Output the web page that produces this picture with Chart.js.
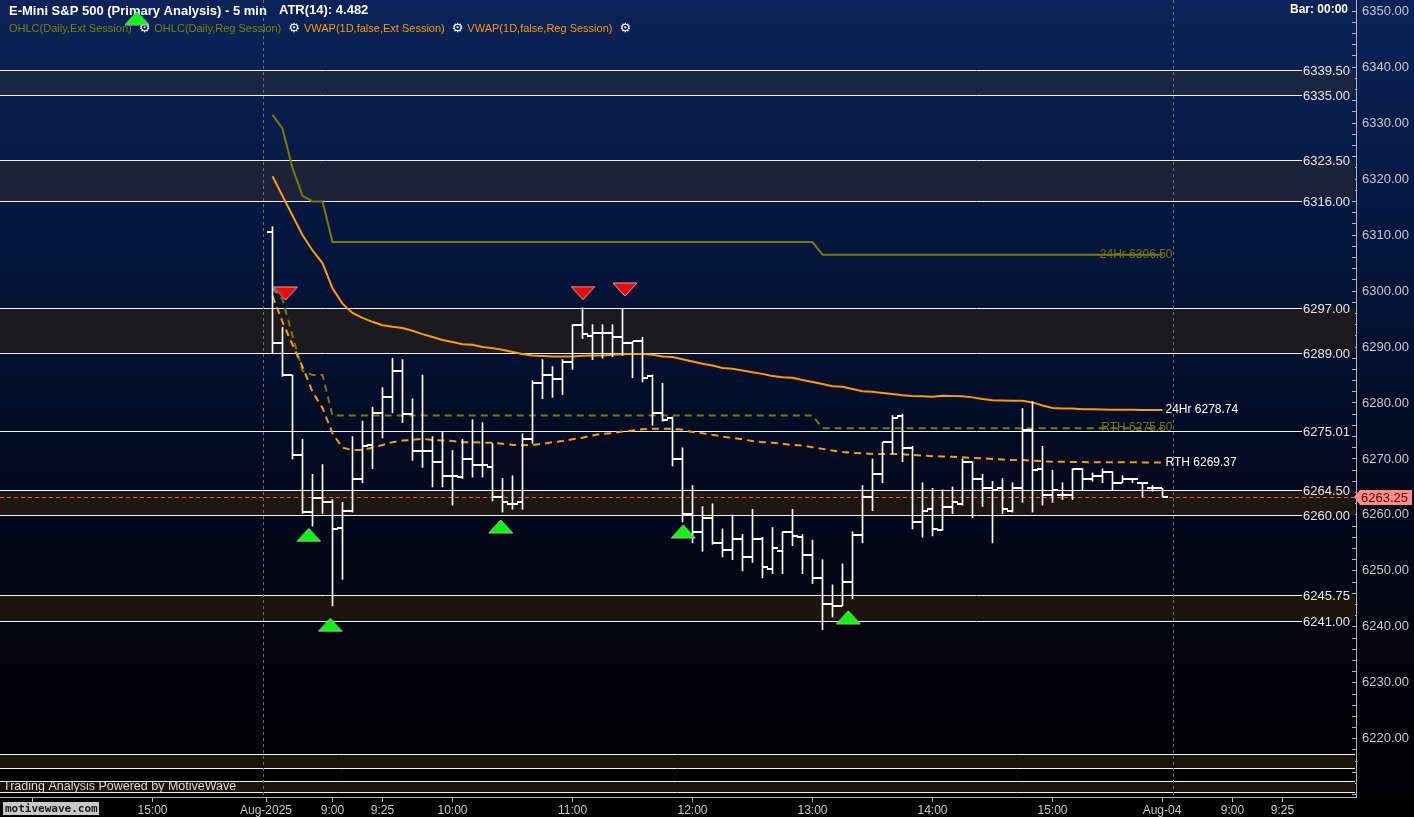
<!DOCTYPE html>
<html><head><meta charset="utf-8">
<script src="https://cdn.jsdelivr.net/npm/chart.js@4.4.1/dist/chart.umd.min.js"></script>
<style>html,body{margin:0;padding:0;background:#000;overflow:hidden}#wrap{width:1414px;height:817px;position:relative}</style>
</head><body><div id="wrap"><canvas id="c"></canvas></div>
<script>
// ---------- DATA ----------
const opens = [6310.5,6290.75,6285.0,6270.75,6260.5,6263.0,6262.25,6257.75,6260.75,6266.5,
6272.5,6278.25,6281.0,6285.75,6278.0,6271.5,6271.5,6269.5,6267.0,6266.75,
6270.0,6269.0,6268.5,6263.25,6262.0,6262.25,6273.5,6283.5,6285.0,6284.25,
6287.25,6294.0,6292.0,6292.5,6292.5,6291.75,6290.75,6291.0,6284.75,6278.25,
6277.25,6270.0,6260.25,6257.0,6259.5,6255.0,6253.75,6255.75,6252.5,6255.75,
6250.25,6253.5,6257.0,6256.0,6252.75,6248.75,6244.0,6243.75,6248.0,6256.5,
6263.25,6267.25,6273.0,6277.75,6272.0,6258.75,6261.0,6257.25,6261.5,6262.0,
6269.5,6266.5,6264.75,6264.75,6260.75,6264.75,6275.25,6268.25,6263.5,6263.5,
6263.5,6268.25,6266.5,6267.0,6267.75,6265.75,6266.5,6265.75,6264.75,6264.75];
const highs = [6311.5,6293.5,6285.0,6273.5,6267.25,6269.0,6262.75,6262.25,6274.0,6276.75,
6279.25,6282.75,6288.0,6287.75,6280.75,6285.0,6274.0,6274.75,6271.5,6273.5,
6277.0,6276.5,6272.75,6266.5,6267.0,6274.5,6284.0,6287.75,6286.5,6287.75,
6294.0,6297.0,6294.0,6294.0,6294.0,6296.75,6291.0,6291.75,6285.0,6283.5,
6277.5,6272.0,6265.25,6261.5,6262.0,6257.5,6260.0,6256.5,6261.0,6256.0,
6257.75,6257.0,6261.0,6256.5,6255.5,6252.0,6247.5,6251.25,6257.0,6265.25,
6270.0,6273.0,6277.75,6278.0,6272.25,6265.75,6264.75,6264.5,6265.0,6270.0,
6269.5,6267.25,6266.0,6266.5,6265.75,6279.0,6280.25,6272.25,6268.0,6265.75,
6268.25,6268.25,6267.5,6268.25,6267.75,6267.0,6266.5,6265.75,6265.25,6264.75];
const lows = [6289.0,6284.75,6270.0,6260.25,6258.0,6260.25,6243.75,6248.5,6260.5,6265.75,
6268.25,6273.75,6278.25,6276.5,6269.75,6268.5,6265.0,6265.0,6261.75,6266.5,
6266.75,6266.75,6262.5,6260.5,6261.0,6261.0,6272.75,6280.75,6281.0,6281.5,
6286.0,6291.5,6287.75,6288.0,6288.25,6288.5,6284.5,6283.75,6276.0,6276.75,
6268.75,6258.75,6255.0,6253.5,6254.75,6252.5,6252.0,6250.0,6251.5,6248.75,
6249.5,6249.5,6254.5,6249.5,6247.75,6239.5,6241.75,6243.75,6245.0,6255.0,
6260.75,6265.75,6271.0,6269.5,6257.5,6256.0,6256.25,6257.25,6260.25,6261.75,
6259.5,6261.5,6255.0,6260.25,6260.5,6262.25,6260.5,6261.75,6262.25,6262.75,
6262.75,6264.5,6266.0,6265.75,6264.5,6265.75,6265.75,6263.25,6264.25,6263.25];
const closes = [6290.75,6285.0,6270.75,6260.5,6263.0,6262.25,6257.5,6260.75,6266.5,6272.25,
6278.25,6281.0,6285.75,6278.0,6271.5,6271.5,6269.5,6267.0,6267.0,6270.0,
6269.0,6269.0,6263.25,6262.25,6262.0,6273.5,6283.5,6285.0,6284.25,6287.25,
6294.0,6292.25,6292.5,6292.5,6291.75,6290.75,6291.0,6284.5,6278.25,6277.0,
6270.0,6260.25,6257.0,6259.5,6255.0,6253.75,6255.75,6252.5,6255.75,6250.75,
6254.0,6257.0,6256.25,6252.75,6248.75,6244.0,6243.75,6248.0,6256.5,6263.25,
6267.25,6273.0,6277.25,6272.0,6258.75,6260.75,6257.5,6261.5,6262.25,6269.5,
6266.5,6264.75,6264.5,6261.0,6264.75,6275.25,6268.0,6263.5,6264.5,6263.5,
6268.25,6266.5,6267.0,6267.75,6265.75,6266.5,6266.5,6265.75,6264.75,6263.25];

// OHLC(Daily) step lines: bar index where the line bends, and its value there
const ext24X = [0,1,2,3,4,5,6,54,55,89];
const ext24Y = [6331.5,6329.0,6322.0,6317.0,6316.0,6316.0,6308.75,6308.75,6306.5,6306.5];
const rthX = [0,1,2,3,4,5,6,54,55,89];
const rthY = [6300.5,6298.5,6292.0,6285.75,6285.0,6285.0,6277.75,6277.75,6275.5,6275.5];

const vwapExt = [6320.5,6317.0,6313.5,6310.0,6307.25,6305.0,6300.5,6297.75,6296.1,6295.2,
6294.5,6293.9,6293.6,6293.4,6292.9,6292.3,6291.8,6291.25,6290.9,6290.5,
6290.4,6290.0,6289.8,6289.5,6289.1,6288.75,6288.5,6288.4,6288.3,6288.3,
6288.3,6288.45,6288.5,6288.5,6288.6,6288.7,6288.75,6288.75,6288.6,6288.3,
6288.2,6287.8,6287.4,6287.0,6286.7,6286.25,6286.1,6285.8,6285.5,6285.2,
6284.8,6284.6,6284.5,6284.1,6283.75,6283.4,6283.0,6282.9,6282.5,6282.1,
6282.0,6281.8,6281.6,6281.4,6281.25,6281.2,6281.1,6281.3,6281.25,6281.2,
6281.0,6280.7,6280.5,6280.45,6280.4,6280.4,6280.1,6279.55,6279.1,6279.0,
6279.0,6278.9,6278.9,6278.85,6278.8,6278.8,6278.8,6278.75,6278.75,6278.74];
const vwapReg = [6299.1,6294.5,6290.4,6286.5,6282.0,6279.1,6274.6,6272.0,6271.6,6271.6,
6272.0,6272.5,6273.0,6273.3,6273.4,6273.6,6273.4,6273.3,6273.2,6273.0,
6273.0,6272.9,6272.9,6272.7,6272.5,6272.45,6272.5,6272.7,6273.0,6273.2,
6273.5,6273.8,6274.2,6274.5,6274.6,6274.9,6275.1,6275.3,6275.4,6275.4,
6275.4,6275.2,6274.8,6274.6,6274.3,6274.0,6273.75,6273.5,6273.2,6273.0,
6272.9,6272.7,6272.5,6272.4,6272.1,6271.8,6271.5,6271.25,6271.1,6271.0,
6270.9,6270.9,6270.9,6270.85,6270.7,6270.6,6270.5,6270.45,6270.4,6270.3,
6270.2,6270.1,6270.0,6269.9,6269.8,6269.8,6269.7,6269.6,6269.5,6269.5,
6269.45,6269.45,6269.4,6269.4,6269.4,6269.4,6269.4,6269.38,6269.38,6269.37];

const sellX = [1.3, 31.05, 35.25];
const sellY = [6299.55, 6299.64, 6300.27];
const buyX = [-13.55, 3.62, 5.78, 22.82, 41.08, 57.58];
const buyY = [6348.75, 6256.43, 6240.36, 6257.95, 6257.05, 6241.7];

const levels = [6339.5, 6335, 6323.5, 6316, 6297, 6289, 6275.01, 6264.5, 6260, 6245.75, 6241, 6217.25, 6214.75, 6212.5, 6210.5];
const levelLabels = ['6339.50','6335.00','6323.50','6316.00','6297.00','6289.00','6275.01','6264.50','6260.00','6245.75','6241.00','','','',''];
const bandTop = [6339.5, 6323.5, 6297, 6264.5, 6245.75, 6217.25, 6212.5];
const bandBottom = [6335, 6316, 6289, 6260, 6241, 6214.75, 6210.5];
const lastPrice = 6263.25;
const sessionBreaks = [-1, 90];
const tickPos = [-24, -12, -0.65, 6, 11, 18, 30, 42, 54, 66, 78, 88.95, 96, 101];
const tickLabels = ['14:00','15:00','Aug-2025','9:00','9:25','10:00','11:00','12:00','13:00','14:00','15:00','Aug-04','9:00','9:25'];
const yTickValues = [];
for (let v = 6210; v <= 6350; v += 2) yTickValues.push(v);
const yLabelMin = 6220;

// ---------- STYLE ----------
const bandColors = ['#1a2541','#1b2239','#1b1a1f','#1c1712','#1c150d','#1a1309','#1a1309'];
const FONT = '"Liberation Sans", Arial, sans-serif';
const NARROW = '"Liberation Sans Narrow", "Liberation Sans", Arial, sans-serif';
Chart.defaults.font.family = FONT;

function tickCanvas(left) {
  const c = document.createElement('canvas'); c.width = 11; c.height = 2;
  const g = c.getContext('2d'); g.fillStyle = '#ffffff';
  if (left) g.fillRect(0, 0, 5, 2); else g.fillRect(6, 0, 5, 2);
  return c;
}
function triCanvas(fill, up) {
  const c = document.createElement('canvas'); c.width = 26; c.height = 15;
  const g = c.getContext('2d'); g.beginPath();
  if (up) { g.moveTo(13, 1); g.lineTo(25, 14); g.lineTo(1, 14); }
  else { g.moveTo(1, 1); g.lineTo(25, 1); g.lineTo(13, 14); }
  g.closePath(); g.fillStyle = fill; g.fill();
  g.strokeStyle = '#b8b8b8'; g.lineWidth = 1; g.stroke();
  return c;
}

const idx = opens.map((_, i) => i);
const pts = (xs, ys) => xs.map((x, i) => ({x, y: ys[i]}));

const decor = {
  id: 'decor',
  beforeDraw(chart) {
    const {ctx, width, height} = chart;
    const g = ctx.createLinearGradient(0, 0, 0, height);
    g.addColorStop(0, '#0b2358'); g.addColorStop(0.28, '#05173f');
    g.addColorStop(0.55, '#020b22'); g.addColorStop(0.8, '#01040c'); g.addColorStop(1, '#000000');
    ctx.save(); ctx.fillStyle = g; ctx.fillRect(0, 0, width, height); ctx.restore();
  },
  beforeDatasetsDraw(chart) {
    const {ctx, chartArea: a, scales: {x, y}} = chart;
    ctx.save();
    bandTop.forEach((t, i) => {
      const y1 = Math.round(y.getPixelForValue(t)), y2 = Math.round(y.getPixelForValue(bandBottom[i]));
      ctx.fillStyle = bandColors[i];
      ctx.fillRect(a.left, y1, a.right - a.left - 1, y2 - y1);
    });
    ctx.font = '13px ' + FONT; ctx.textAlign = 'right'; ctx.textBaseline = 'middle';
    levels.forEach((v, i) => {
      const py = Math.round(y.getPixelForValue(v)) + 0.5;
      const lab = levelLabels[i];
      const end = lab ? a.right - 54 : a.right - 1;
      ctx.strokeStyle = '#f2f2f2'; ctx.lineWidth = 1;
      ctx.beginPath(); ctx.moveTo(a.left, py); ctx.lineTo(end, py); ctx.stroke();
      if (lab) { ctx.fillStyle = '#e6e6e6'; ctx.fillText(lab, a.right - 6, py + 1); }
    });
    // session breaks
    ctx.strokeStyle = '#6e6e6e'; ctx.setLineDash([3, 3]);
    sessionBreaks.forEach(v => {
      const px = Math.round(x.getPixelForValue(v)) + 0.5;
      ctx.beginPath(); ctx.moveTo(px, a.top); ctx.lineTo(px, a.bottom); ctx.stroke();
    });
    // last price line
    const lp = Math.round(y.getPixelForValue(lastPrice)) + 0.5;
    ctx.strokeStyle = '#ff4a4a'; ctx.setLineDash([4, 3]);
    ctx.beginPath(); ctx.moveTo(a.left, lp); ctx.lineTo(a.right, lp); ctx.stroke();
    ctx.setLineDash([]);
    // title & legend
    ctx.textAlign = 'left'; ctx.textBaseline = 'middle';
    ctx.fillStyle = '#ffffff'; ctx.font = 'bold 13px ' + NARROW;
    ctx.fillText('E-Mini S&P 500 (Primary Analysis) - 5 min', 9, 11);
    ctx.fillText('ATR(14): 4.482', 279, 10);
    ctx.textAlign = 'right'; ctx.font = 'bold 12px ' + NARROW;
    ctx.fillText('Bar: 00:00', a.right - 8, 10);
    ctx.textAlign = 'left';
    const items = [['OHLC(Daily,Ext Session)', '#80800a'], ['OHLC(Daily,Reg Session)', '#80800a'],
                   ['VWAP(1D,false,Ext Session)', '#ff9900'], ['VWAP(1D,false,Reg Session)', '#ff9900']];
    let lx = 9;
    items.forEach(([t, c]) => {
      ctx.font = '11px ' + NARROW; ctx.fillStyle = c; ctx.fillText(t, lx, 29);
      lx += ctx.measureText(t).width + 7;
      ctx.font = '13px "DejaVu Sans"'; ctx.fillStyle = '#ffffff'; ctx.fillText('\u2699', lx, 29);
      lx += ctx.measureText('\u2699').width + 4;
    });
    ctx.font = '12.5px ' + NARROW; ctx.fillStyle = '#d8d8d8';
    ctx.fillText('Trading Analysis Powered by MotiveWave', 3, 787);
    ctx.restore();
  },
  afterDatasetsDraw(chart) {
    const {ctx, scales: {x, y}} = chart;
    ctx.save();
    ctx.font = '12px ' + FONT; ctx.textBaseline = 'middle';
    const xr = x.getPixelForValue(89);
    ctx.textAlign = 'right'; ctx.fillStyle = '#75750a';
    ctx.fillText('24Hr ' + ext24Y[ext24Y.length - 1].toFixed(2), xr + 10, y.getPixelForValue(ext24Y[ext24Y.length - 1]));
    ctx.fillText('RTH ' + rthY[rthY.length - 1].toFixed(2), xr + 10, y.getPixelForValue(rthY[rthY.length - 1]));
    ctx.textAlign = 'left'; ctx.fillStyle = '#ffffff';
    ctx.fillText('24Hr ' + vwapExt[vwapExt.length - 1].toFixed(2), xr + 3, y.getPixelForValue(vwapExt[vwapExt.length - 1]));
    ctx.fillText('RTH ' + vwapReg[vwapReg.length - 1].toFixed(2), xr + 3, y.getPixelForValue(vwapReg[vwapReg.length - 1]));
    ctx.restore();
  },
  afterDraw(chart) {
    const {ctx, chartArea: a, scales: {y}} = chart;
    ctx.save();
    const py = Math.round(y.getPixelForValue(lastPrice));
    ctx.fillStyle = '#ff8a8a';
    ctx.beginPath(); ctx.moveTo(a.right - 2, py); ctx.lineTo(a.right + 4, py - 7); ctx.lineTo(a.right + 56, py - 7);
    ctx.lineTo(a.right + 56, py + 8); ctx.lineTo(a.right + 4, py + 8); ctx.closePath(); ctx.fill();
    ctx.fillStyle = '#5a0000'; ctx.font = '13px ' + FONT; ctx.textAlign = 'left'; ctx.textBaseline = 'middle';
    ctx.fillText(lastPrice.toFixed(2), a.right + 5, py + 1);
    // logo
    ctx.fillStyle = '#c8c8c8'; ctx.fillRect(3, 802, 96, 13);
    ctx.fillStyle = '#1a1a1a'; ctx.font = 'bold 11px "DejaVu Sans Mono", monospace';
    ctx.fillText('motivewave.com', 5, 809);
    ctx.restore();
  }
};

new Chart(document.getElementById('c'), {
  type: 'scatter',
  data: {
    datasets: [
      {type: 'scatter', label: 'Sell', data: pts(sellX, sellY), pointStyle: triCanvas('#ff0000', false), pointRadius: 6, order: 0},
      {type: 'scatter', label: 'Buy', data: pts(buyX, buyY), pointStyle: triCanvas('#00ff00', true), pointRadius: 6, order: 0},
      {type: 'scatter', label: 'Open', data: idx.map(i => ({x: i, y: opens[i]})), pointStyle: tickCanvas(true), pointRadius: 3, order: 1},
      {type: 'scatter', label: 'Close', data: idx.map(i => ({x: i, y: closes[i]})), pointStyle: tickCanvas(false), pointRadius: 3, order: 1},
      {type: 'bar', label: 'Range', data: idx.map(i => ({x: i, y: [lows[i], highs[i]]})), backgroundColor: '#ffffff', barThickness: 1, order: 1},
      {type: 'line', label: 'VWAP Ext', data: idx.map(i => ({x: i, y: vwapExt[i]})), borderColor: '#ff9a00', borderWidth: 2, pointRadius: 0, tension: 0, order: 2},
      {type: 'line', label: 'VWAP Reg', data: idx.map(i => ({x: i, y: vwapReg[i]})), borderColor: '#ff9a00', borderWidth: 2, borderDash: [7, 5], pointRadius: 0, tension: 0, order: 2},
      {type: 'line', label: 'OHLC Ext', data: pts(ext24X, ext24Y), borderColor: '#7a7a00', borderWidth: 2, pointRadius: 0, tension: 0, order: 3},
      {type: 'line', label: 'OHLC Reg', data: pts(rthX, rthY), borderColor: '#7a7a00', borderWidth: 2, borderDash: [7, 5], pointRadius: 0, tension: 0, order: 3}
    ]
  },
  options: {
    responsive: true, maintainAspectRatio: false, animation: false, events: [],
    layout: {padding: 0, autoPadding: false},
    plugins: {legend: {display: false}, tooltip: {enabled: false}},
    scales: {
      x: {
        type: 'linear', position: 'bottom', min: -27.25, max: 108.35, bounds: 'data', offset: false,
        afterFit(s) { s.height = 20; s.paddingLeft = 0; s.paddingRight = 0; },
        afterBuildTicks(s) { s.ticks = tickPos.map(v => ({value: v})); },
        ticks: {autoSkip: false, maxRotation: 0, color: '#c8c8c8', font: {size: 12}, padding: 1,
                callback: v => tickLabels[tickPos.indexOf(v)]},
        grid: {offset: false, drawOnChartArea: false, drawTicks: true, tickLength: 5, color: '#b4b4b4'},
        border: {display: true, color: '#b4b4b4'}
      },
      y: {
        type: 'linear', position: 'right', min: 6209.6, max: 6352, bounds: 'data',
        afterFit(s) { s.width = 58; s.paddingTop = 0; s.paddingBottom = 0; },
        afterBuildTicks(s) { s.ticks = yTickValues.map(v => ({value: v})); },
        ticks: {autoSkip: false, color: '#c8c8c8', font: {size: 13}, padding: 10,
                callback: v => (v % 10 === 0 && v >= yLabelMin ? v.toFixed(2) : '')},
        grid: {drawOnChartArea: false, drawTicks: true, tickLength: -4, color: '#b4b4b4'},
        border: {display: true, color: '#b4b4b4'}
      }
    }
  },
  plugins: [decor]
});
</script>
</body></html>
